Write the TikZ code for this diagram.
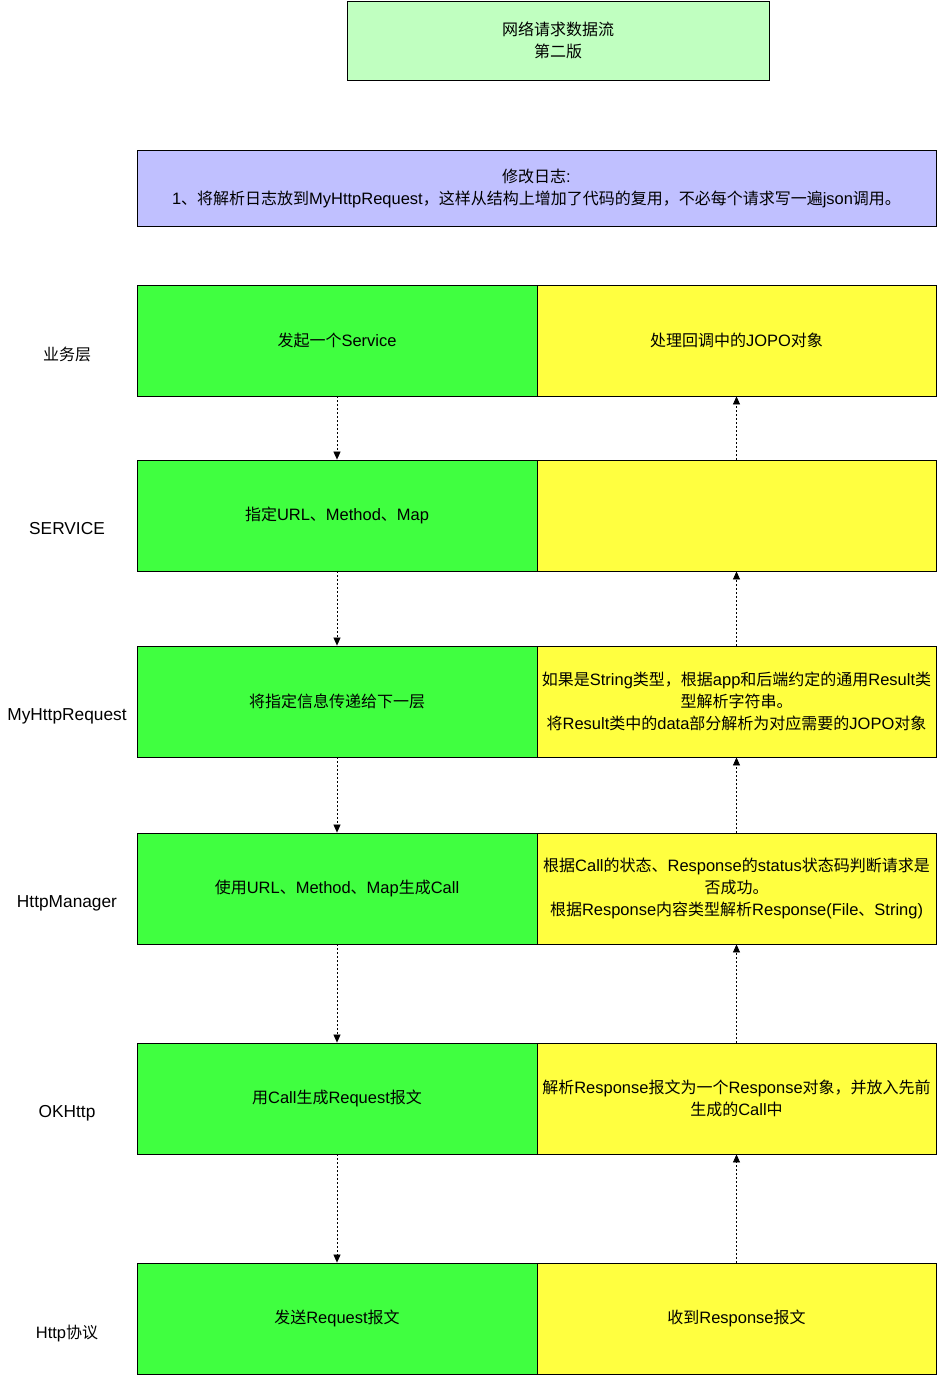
\documentclass[tikz,border=0pt]{standalone}
\usepackage{fontspec}
\setmainfont[Scale=1.03]{Liberation Sans}
\newfontfamily\latinfnt[Scale=1.03]{Liberation Sans}
\newfontfamily\cjkfnt{Noto Sans CJK SC}
\XeTeXinterchartokenstate=1
\newXeTeXintercharclass\mycjkclass
\makeatletter
\def\setcjkrange#1#2{%
  \count@=#1\relax
  \loop
    \XeTeXcharclass\count@=\mycjkclass
    \advance\count@ by 1\relax
  \ifnum\count@<#2\relax\repeat}
\makeatother
\setcjkrange{"3000}{"3040}
\setcjkrange{"4E00}{"A000}
\setcjkrange{"FF00}{"FF20}
\XeTeXinterchartoks 0 \mycjkclass = {\cjkfnt}
\XeTeXinterchartoks 4095 \mycjkclass = {\cjkfnt}
\XeTeXinterchartoks \mycjkclass 0 = {\latinfnt}
\XeTeXinterchartoks \mycjkclass 4095 = {\latinfnt}
\usetikzlibrary{arrows.meta}
\tikzset{
  box/.style={draw=black, line width=0.8pt, rectangle, inner sep=0pt, align=center,
    font=\fontsize{16}{22}\selectfont},
  greenbox/.style={box, fill=gbox, minimum width=400pt, minimum height=111pt},
  yellowbox/.style={box, fill=ybox, minimum width=399pt, minimum height=111pt},
  layer/.style={font=\fontsize{16}{20}\selectfont, inner sep=0pt},
  latinlayer/.style={font=\fontsize{16.8}{20}\selectfont, inner sep=0pt},
  flow/.style={line width=0.7pt, dash pattern=on 2pt off 2pt, -{Triangle[length=8pt,width=7pt]}}
}
\definecolor{gbox}{HTML}{40FF40}
\definecolor{ybox}{HTML}{FFFF40}
\definecolor{titlefill}{HTML}{C0FFC0}
\definecolor{logfill}{HTML}{C0C0FF}
\begin{document}
\begin{tikzpicture}[x=1pt,y=-1pt]
\useasboundingbox (0,0) rectangle (937,1375);
% title
\node[box, fill=titlefill, minimum width=422pt, minimum height=79pt] (title) at (558,40.5) {网络请求数据流\\第二版};
% log
\node[box, fill=logfill, minimum width=799pt, minimum height=76pt] (log) at (536.5,188.5) {修改日志:\\1、将解析日志放到MyHttpRequest，这样从结构上增加了代码的复用，不必每个请求写一遍json调用。};
% rows
\node[greenbox] (g1) at (337,340.5) {发起一个Service};
\node[yellowbox] (y1) at (736.5,340.5) {处理回调中的JOPO对象};
\node[greenbox] (g2) at (337,515.5) {指定URL、Method、Map};
\node[yellowbox] (y2) at (736.5,515.5) {};
\node[greenbox] (g3) at (337,701.5) {将指定信息传递给下一层};
\node[yellowbox] (y3) at (736.5,701.5) {如果是String类型，根据app和后端约定的通用Result类\\型解析字符串。\\将Result类中的data部分解析为对应需要的JOPO对象};
\node[greenbox] (g4) at (337,888.5) {使用URL、Method、Map生成Call};
\node[yellowbox] (y4) at (736.5,888.5) {根据Call的状态、Response的status状态码判断请求是\\否成功。\\根据Response内容类型解析Response(File、String)};
\node[greenbox] (g5) at (337,1098.5) {用Call生成Request报文};
\node[yellowbox] (y5) at (736.5,1098.5) {解析Response报文为一个Response对象，并放入先前\\生成的Call中};
\node[greenbox] (g6) at (337,1318.5) {发送Request报文};
\node[yellowbox] (y6) at (736.5,1318.5) {收到Response报文};
% layer labels
\node[layer] (l1) at (67,354) {业务层};
\node[latinlayer] (l2) at (67,529) {SERVICE};
\node[latinlayer] (l3) at (67,716) {MyHttpRequest};
\node[latinlayer] (l4) at (67,903) {HttpManager};
\node[latinlayer] (l5) at (67,1113) {OKHttp};
\node[layer] (l6) at (67,1333) {Http协议};
% downward flow
\foreach \a/\b in {g1/g2,g2/g3,g3/g4,g4/g5,g5/g6}{
  \draw[flow] (\a.south) -- (\b.north);
}
% upward flow
\foreach \a/\b in {y6/y5,y5/y4,y4/y3,y3/y2,y2/y1}{
  \draw[flow] (\a.north) -- (\b.south);
}
\end{tikzpicture}
\end{document}
